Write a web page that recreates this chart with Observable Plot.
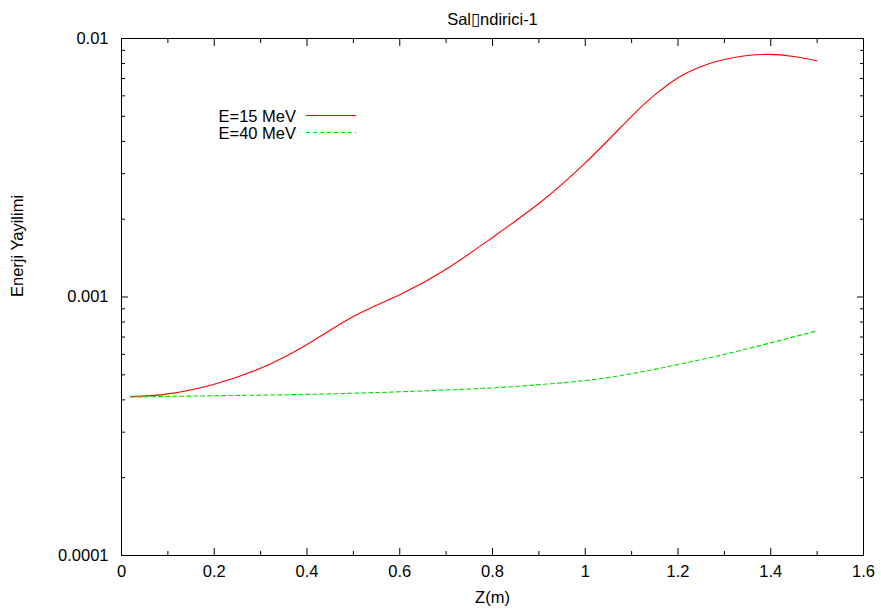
<!DOCTYPE html>
<html>
<head>
<meta charset="utf-8">
<script src="https://cdn.jsdelivr.net/npm/d3@7"></script>
<script src="https://cdn.jsdelivr.net/npm/@observablehq/plot@0.6"></script>
<style>
  html, body { margin: 0; padding: 0; background: #fff; }
  #wrap { position: relative; width: 881px; height: 613px; font-family: "Liberation Sans", Arial, Helvetica, sans-serif; }
  #legend { position: absolute; left: 0; top: 0; pointer-events: none; }
</style>
</head>
<body>
<div id="wrap"></div>
<script>
// ---- data ----
const titleText = "Sal\u25AFndirici-1";
const xLabel = "Z(m)";
const yLabel = "Enerji Yayilimi";
const seriesNames = ["E=15 MeV", "E=40 MeV"];
const seriesColors = ["#ff0000", "#00e000"];

const z15 = [0.02, 0.1, 0.2, 0.3, 0.4, 0.5, 0.6, 0.7, 0.8, 0.9, 1.0, 1.1, 1.15, 1.2, 1.25, 1.3, 1.38, 1.45, 1.5];
const e15 = [4.12e-4, 4.22e-4, 4.6e-4, 5.3e-4, 6.55e-4, 8.4e-4, 1.02e-3, 1.28e-3, 1.70e-3, 2.30e-3, 3.30e-3, 5.0e-3, 6.05e-3, 7.05e-3, 7.8e-3, 8.3e-3, 8.67e-3, 8.52e-3, 8.2e-3];

const z40 = [0.02, 0.2, 0.4, 0.6, 0.8, 0.9, 1.0, 1.1, 1.2, 1.3, 1.4, 1.5];
const e40 = [4.1e-4, 4.15e-4, 4.2e-4, 4.3e-4, 4.45e-4, 4.58e-4, 4.75e-4, 5.05e-4, 5.48e-4, 6.0e-4, 6.65e-4, 7.4e-4];

const xMajor = [0, 0.2, 0.4, 0.6, 0.8, 1.0, 1.2, 1.4, 1.6];
const xMinor = [0.1, 0.3, 0.5, 0.7, 0.9, 1.1, 1.3, 1.5];
const yMajor = [1e-4, 1e-3, 1e-2];
const yMinor = [2e-4, 3e-4, 4e-4, 5e-4, 6e-4, 7e-4, 8e-4, 9e-4, 2e-3, 3e-3, 4e-3, 5e-3, 6e-3, 7e-3, 8e-3, 9e-3];

// ---- build table ----
const rows = [
  ...z15.map((z, i) => ({z, e: e15[i], s: seriesNames[0]})),
  ...z40.map((z, i) => ({z, e: e40[i], s: seriesNames[1]}))
];

const FS = 16.5;
const fmtX = d => String(+d.toFixed(1));
const fmtY = d => String(+d.toPrecision(1));

const W = 881, H = 613, ML = 121, MR = 18, MT = 38, MB = 58;

const chart = Plot.plot({
  width: W, height: H,
  marginLeft: ML, marginRight: MR, marginTop: MT, marginBottom: MB,
  style: {fontFamily: '"Liberation Sans", Arial, Helvetica, sans-serif', fontSize: FS + "px", background: "#fff", color: "#000"},
  x: {domain: [0, 1.6], axis: null},
  y: {type: "log", domain: [1e-4, 1e-2], axis: null},
  marks: [
    // inward major/minor ticks on all four sides
    Plot.axisX({anchor: "bottom", ticks: xMajor, tickSize: -7, fill: "none", label: null, stroke: "#000"}),
    Plot.axisX({anchor: "bottom", ticks: xMinor, tickSize: -4, fill: "none", label: null, stroke: "#000"}),
    Plot.axisX({anchor: "top", ticks: xMajor, tickSize: -7, fill: "none", label: null, stroke: "#000"}),
    Plot.axisX({anchor: "top", ticks: xMinor, tickSize: -4, fill: "none", label: null, stroke: "#000"}),
    Plot.axisY({anchor: "left", ticks: yMajor, tickSize: -7, fill: "none", label: null, stroke: "#000"}),
    Plot.axisY({anchor: "left", ticks: yMinor, tickSize: -4, fill: "none", label: null, stroke: "#000"}),
    Plot.axisY({anchor: "right", ticks: yMajor, tickSize: -7, fill: "none", label: null, stroke: "#000"}),
    Plot.axisY({anchor: "right", ticks: yMinor, tickSize: -4, fill: "none", label: null, stroke: "#000"}),
    // tick labels
    Plot.axisX({anchor: "bottom", ticks: xMajor, tickSize: 0, tickPadding: 10, tickFormat: fmtX, label: null, fontSize: FS, fill: "#000"}),
    Plot.axisY({anchor: "left", ticks: yMajor, tickSize: 0, tickPadding: 13, tickFormat: fmtY, label: null, fontSize: FS, fill: "#000"}),
    // series
    Plot.line(rows.filter(d => d.s === seriesNames[0]), {x: "z", y: "e", stroke: seriesColors[0], strokeWidth: 1.1, curve: "natural"}),
    Plot.line(rows.filter(d => d.s === seriesNames[1]), {x: "z", y: "e", stroke: seriesColors[1], strokeWidth: 1.1, strokeDasharray: "4,3", curve: "natural"}),
    Plot.frame({stroke: "#000", strokeWidth: 1}),
    // titles
    Plot.text([titleText], {frameAnchor: "top", dy: -25, fontSize: FS, fill: "#000"}),
    Plot.text([xLabel], {frameAnchor: "bottom", dy: 47, fontSize: FS, fill: "#000"}),
    Plot.text([yLabel], {frameAnchor: "left", dx: -104, rotate: -90, fontSize: FS, fill: "#000"})
  ]
});

const wrap = document.getElementById("wrap");
wrap.appendChild(chart);

// legend overlay
const ns = "http://www.w3.org/2000/svg";
const leg = document.createElementNS(ns, "svg");
leg.setAttribute("id", "legend");
leg.setAttribute("width", W);
leg.setAttribute("height", 160);
const legendRows = [
  {name: seriesNames[0], color: seriesColors[0], dash: null, y: 115.5},
  {name: seriesNames[1], color: seriesColors[1], dash: "4,3", y: 132.5}
];
legendRows.forEach(r => {
  const t = document.createElementNS(ns, "text");
  t.setAttribute("x", 296);
  t.setAttribute("y", r.y);
  t.setAttribute("text-anchor", "end");
  t.setAttribute("dominant-baseline", "central");
  t.setAttribute("font-family", '"Liberation Sans", Arial, Helvetica, sans-serif');
  t.setAttribute("font-size", 16.5);
  t.textContent = r.name;
  leg.appendChild(t);
  const l = document.createElementNS(ns, "line");
  l.setAttribute("x1", 306); l.setAttribute("x2", 356);
  l.setAttribute("y1", r.y); l.setAttribute("y2", r.y);
  l.setAttribute("stroke", r.color);
  l.setAttribute("stroke-width", 1.1);
  if (r.dash) l.setAttribute("stroke-dasharray", r.dash);
  leg.appendChild(l);
});
wrap.appendChild(leg);
</script>
</body>
</html>
